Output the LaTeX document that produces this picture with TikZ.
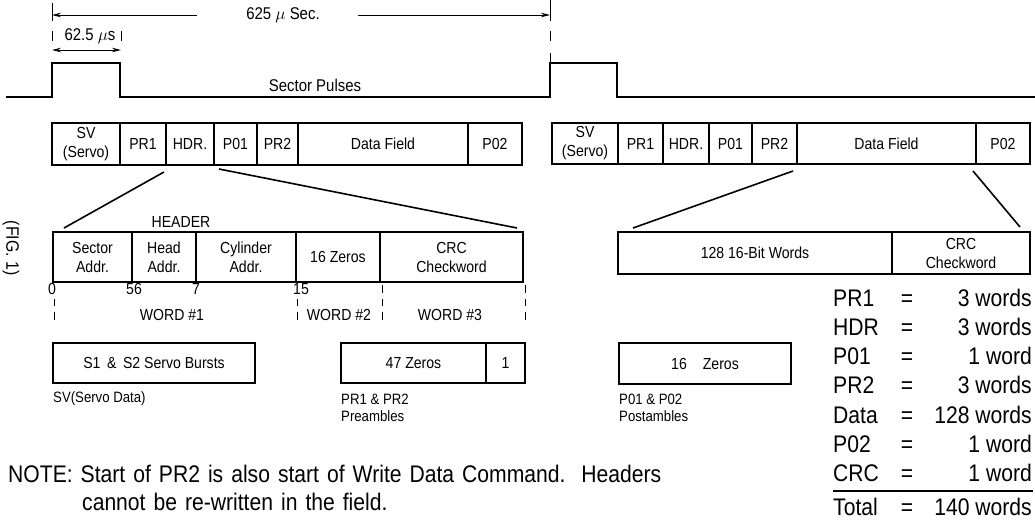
\documentclass[tikz,border=0pt]{standalone}
\usepackage{fontspec}
\setmainfont{Liberation Sans}
\newfontfamily\cond{Liberation Sans}[FakeStretch=0.88]
\newcommand\notesp{\spaceskip=8pt plus 1pt\relax}
\usetikzlibrary{arrows.meta}
\begin{document}
\begin{tikzpicture}[x=1pt,y=-1pt,
  cell/.style={draw, line width=1.2pt, inner sep=0pt, outer sep=0pt, anchor=north west, align=center, font=\cond\fontsize{16}{19}\selectfont},
  lbl/.style={inner sep=0pt, font=\cond\fontsize{16}{19}\selectfont},
  smlbl/.style={inner sep=0pt, anchor=west, font=\cond\fontsize{15}{17}\selectfont},
  toplbl/.style={inner sep=0pt, font=\cond\fontsize{17}{19}\selectfont},
  tbl/.style={inner sep=0pt, font=\cond\fontsize{24}{28}\selectfont},
  notetxt/.style={inner sep=0pt, anchor=base west, font=\cond\fontsize{24}{28}\selectfont},
  conn/.style={line width=1.6pt},
  pulse/.style={line width=2pt, line join=miter},
  tickline/.style={line width=0.8pt},
  dimarr/.style={line width=0.9pt, -{Stealth[length=9pt,width=4.5pt]}},
  dimarrb/.style={line width=0.9pt, {Stealth[length=9pt,width=4.5pt]}-{Stealth[length=9pt,width=4.5pt]}},
]
\useasboundingbox (0,0) rectangle (1035,520);

% ---- timing ----
\coordinate (tL) at (52,15);
\coordinate (tR) at (550,15);
\node[toplbl] (t625) at (283,15) {625 $\mu$ Sec.};
\coordinate (g1) at (197,15);
\coordinate (g2) at (358,15);
\draw[dimarr] (g1) -- (tL);
\draw[dimarr] (g2) -- (tR);
\draw[tickline] (52,3) -- (52,21);
\draw[tickline] (52,31) -- (52,41);
\draw[tickline] (121,31) -- (121,41);
\draw[tickline] (550,0) -- (550,21);
\draw[tickline] (550,31) -- (550,41);
\draw[tickline] (550,53) -- (550,62);
\node[toplbl] (t62) at (90,36) {62.5 $\mu$s};
\coordinate (sL) at (52,50);
\coordinate (sR) at (121,50);
\draw[dimarrb] (sL) -- (sR);
\draw[pulse] (6,97) -- (52,97) -- (52,63) -- (120,63) -- (120,97) -- (550,97) -- (550,63) -- (617,63) -- (617,97) -- (1035,97);
\node[toplbl] (sp) at (315,85) {Sector Pulses};

% ---- sector row 1 ----
\node[cell, minimum width=68pt, minimum height=42pt] (asv) at (52,123) {SV\\(Servo)};
\node[cell, minimum width=46pt, minimum height=42pt] (apr1) at (120,123) {PR1};
\node[cell, minimum width=48pt, minimum height=42pt] (ahdr) at (166,123) {HDR.};
\node[cell, minimum width=43pt, minimum height=42pt] (ap01) at (214,123) {P01};
\node[cell, minimum width=41pt, minimum height=42pt] (apr2) at (257,123) {PR2};
\node[cell, minimum width=170pt, minimum height=42pt] (adata) at (298,123) {Data Field};
\node[cell, minimum width=54pt, minimum height=42pt] (ap02) at (468,123) {P02};

% ---- sector row 2 ----
\node[cell, minimum width=66pt, minimum height=41pt] (bsv) at (552,123) {SV\\(Servo)};
\node[cell, minimum width=45pt, minimum height=41pt] (bpr1) at (618,123) {PR1};
\node[cell, minimum width=46pt, minimum height=41pt] (bhdr) at (663,123) {HDR.};
\node[cell, minimum width=43pt, minimum height=41pt] (bp01) at (709,123) {P01};
\node[cell, minimum width=45pt, minimum height=41pt] (bpr2) at (752,123) {PR2};
\node[cell, minimum width=179pt, minimum height=41pt] (bdata) at (797,123) {Data Field};
\node[cell, minimum width=54pt, minimum height=41pt] (bp02) at (976,123) {P02};

% ---- header ----
\node[lbl] (hdrt) at (181,222) {HEADER};
\node[cell, minimum width=79pt, minimum height=50pt] (hsec) at (53,232) {Sector\\Addr.};
\node[cell, minimum width=64pt, minimum height=50pt] (hhead) at (132,232) {Head\\Addr.};
\node[cell, minimum width=100pt, minimum height=50pt] (hcyl) at (196,232) {Cylinder\\Addr.};
\node[cell, minimum width=84pt, minimum height=50pt] (hzero) at (296,232) {16 Zeros};
\node[cell, minimum width=143pt, minimum height=50pt] (hcrc) at (380,232) {CRC\\Checkword};

% ---- data expansion ----
\node[cell, minimum width=274pt, minimum height=42pt] (dwords) at (618,232) {128 16-Bit Words};
\node[cell, minimum width=138pt, minimum height=42pt] (dcrc) at (892,232) {CRC\\Checkword};

% ---- connectors ----
\coordinate (c1a) at (164,172); \coordinate (c1b) at (64,228);
\coordinate (c2a) at (219,169); \coordinate (c2b) at (517,228);
\coordinate (c3a) at (793,171); \coordinate (c3b) at (633,228);
\coordinate (c4a) at (973,171); \coordinate (c4b) at (1020,227);
\draw[conn] (c1a) -- (c1b);
\draw[conn] (c2a) -- (c2b);
\draw[conn] (c3a) -- (c3b);
\draw[conn] (c4a) -- (c4b);

% ---- bit positions ----
\node[lbl] (b0) at (52,289) {0};
\node[lbl] (b56) at (134,289) {56};
\node[lbl] (b7) at (196,289) {7};
\node[lbl] (b15) at (301,289) {15};
\draw[tickline] (54,299) -- (54,306); \draw[tickline] (54,312) -- (54,320);
\draw[tickline] (297,299) -- (297,306); \draw[tickline] (297,312) -- (297,320);
\draw[tickline] (382,285) -- (382,293); \draw[tickline] (382,299) -- (382,306); \draw[tickline] (382,312) -- (382,320);
\draw[tickline] (525,285) -- (525,293); \draw[tickline] (525,299) -- (525,306); \draw[tickline] (525,312) -- (525,320);
\node[lbl] (w1) at (172,315) {WORD \#1};
\node[lbl] (w2) at (339,315) {WORD \#2};
\node[lbl] (w3) at (450,315) {WORD \#3};

% ---- bottom boxes ----
\node[cell, minimum width=202pt, minimum height=40pt] (servo) at (53,343) {S1 \,\&\, S2 Servo Bursts};
\node[smlbl] (servot) at (53,399) {SV(Servo Data)};
\node[cell, minimum width=145pt, minimum height=40pt] (pre) at (341,343) {47 Zeros};
\node[cell, minimum width=39pt, minimum height=40pt] (pre1) at (486,343) {1};
\node[smlbl] (pret1) at (341,399) {PR1 \& PR2};
\node[smlbl] (pret2) at (341,416) {Preambles};
\node[cell, minimum width=172pt, minimum height=41pt] (post) at (619,343) {16\quad Zeros};
\node[smlbl] (postt1) at (619,399) {P01 \& P02};
\node[smlbl] (postt2) at (619,416) {Postambles};

% ---- table ----
\foreach \k/\v/\y [count=\i] in {PR1/3 words/306, HDR/3 words/335.3, P01/1 word/364.6, PR2/3 words/393.9, Data/128 words/423.2, P02/1 word/452.5, CRC/1 word/481.8, Total/140 words/515}{
  \node[tbl, anchor=base west] (tk\i) at (833,\y) {\k};
  \node[tbl, anchor=base] (te\i) at (907,\y) {=};
  \node[tbl, anchor=base east] (tv\i) at (1032,\y) {\v};
}
\draw[line width=1.2pt] (833,491) -- (1033,491);

% ---- note ----
\node[notetxt] (note1) at (8,482) {\notesp NOTE: Start of PR2 is also start of Write Data Command.\ \ Headers};
\node[notetxt] (note2) at (82,510) {\notesp cannot be re-written in the field.};

% ---- figure label ----
\node[rotate=-90, inner sep=0pt, font=\cond\fontsize{18}{20}\selectfont] (fig) at (11,248) {(FIG. 1)};
\end{tikzpicture}
\end{document}
